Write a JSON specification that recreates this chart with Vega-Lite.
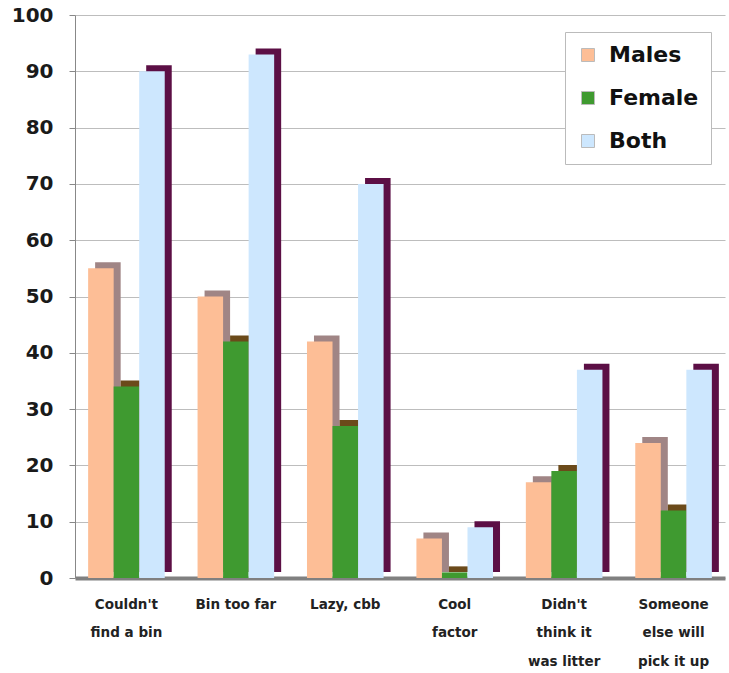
{
  "$schema": "https://vega.github.io/schema/vega-lite/v6.json",
  "width": 650,
  "height": 563,
  "autosize": "none",
  "padding": {"left": 75, "top": 15, "right": 4, "bottom": 95},
  "background": "white",
  "config": {"view": {"stroke": null}, "font": "DejaVu Sans"},
  "data": {
    "values": [
      {"reason": "Couldn't find a bin", "group": "Males", "value": 55},
      {"reason": "Couldn't find a bin", "group": "Female", "value": 34},
      {"reason": "Couldn't find a bin", "group": "Both", "value": 90},
      {"reason": "Bin too far", "group": "Males", "value": 50},
      {"reason": "Bin too far", "group": "Female", "value": 42},
      {"reason": "Bin too far", "group": "Both", "value": 93},
      {"reason": "Lazy, cbb", "group": "Males", "value": 42},
      {"reason": "Lazy, cbb", "group": "Female", "value": 27},
      {"reason": "Lazy, cbb", "group": "Both", "value": 70},
      {"reason": "Cool factor", "group": "Males", "value": 7},
      {"reason": "Cool factor", "group": "Female", "value": 1},
      {"reason": "Cool factor", "group": "Both", "value": 9},
      {"reason": "Didn't think it was litter", "group": "Males", "value": 17},
      {"reason": "Didn't think it was litter", "group": "Female", "value": 19},
      {"reason": "Didn't think it was litter", "group": "Both", "value": 37},
      {"reason": "Someone else will pick it up", "group": "Males", "value": 24},
      {"reason": "Someone else will pick it up", "group": "Female", "value": 12},
      {"reason": "Someone else will pick it up", "group": "Both", "value": 37}
    ]
  },
  "encoding": {
    "x": {
      "field": "reason",
      "type": "nominal",
      "sort": null,
      "scale": {"paddingInner": 0.3, "paddingOuter": 0.12},
      "axis": {
        "title": null,
        "labelAngle": 0,
        "labelFont": "DejaVu Sans",
        "labelFontSize": 13.5,
        "labelFontWeight": "bold",
        "labelColor": "#222222",
        "labelPadding": 19,
        "labelLineHeight": 28.5,
        "labelBaseline": "top",
        "ticks": false,
        "domainColor": "#808080",
        "domainWidth": 4,
        "labelExpr": "datum.value == \"Couldn't find a bin\" ? [\"Couldn't\", 'find a bin'] : datum.value == 'Cool factor' ? ['Cool', 'factor'] : datum.value == \"Didn't think it was litter\" ? [\"Didn't\", 'think it', 'was litter'] : datum.value == 'Someone else will pick it up' ? ['Someone', 'else will', 'pick it up'] : datum.value"
      }
    },
    "y": {
      "field": "value",
      "type": "quantitative",
      "scale": {"domain": [0, 100]},
      "axis": {
        "title": null,
        "values": [0, 10, 20, 30, 40, 50, 60, 70, 80, 90, 100],
        "labelFont": "DejaVu Sans",
        "labelFontSize": 20,
        "labelFontWeight": "bold",
        "labelColor": "#1a1a1a",
        "labelPadding": 16,
        "tickSize": 6,
        "tickColor": "#888888",
        "domainColor": "#888888",
        "gridColor": "#BDBDBD",
        "gridWidth": 1
      }
    }
  },
  "layer": [
    {
      "mark": {"type": "bar", "yOffset": -6},
      "encoding": {
        "xOffset": {"field": "group", "type": "nominal", "sort": ["Males", "Female", "Both"], "scale": {"range": [7, 83.6]}},
        "color": {
          "field": "group",
          "type": "nominal",
          "scale": {"domain": ["Males", "Female", "Both"], "range": ["#A08585", "#6B4A1A", "#5C0F45"]},
          "legend": null
        }
      }
    },
    {
      "mark": {"type": "bar"},
      "encoding": {
        "xOffset": {"field": "group", "type": "nominal", "sort": ["Males", "Female", "Both"], "scale": {"range": [0, 76.6]}},
        "color": {
          "field": "group",
          "type": "nominal",
          "scale": {"domain": ["Males", "Female", "Both"], "range": ["#FDBE96", "#3F9A30", "#CDE7FE"]},
          "legend": {
            "title": null,
            "orient": "none",
            "legendX": 490,
            "legendY": 17,
            "direction": "vertical",
            "symbolType": "square",
            "symbolSize": 169,
            "symbolStrokeColor": "#bbbbbb",
            "symbolStrokeWidth": 1,
            "labelFont": "DejaVu Sans",
            "labelFontSize": 22,
            "labelFontWeight": "bold",
            "labelColor": "#111111",
            "rowPadding": 21,
            "padding": 12,
            "strokeColor": "#BBBBBB",
            "fillColor": "white",
            "labelOffset": 10
          }
        }
      }
    }
  ],
  "resolve": {"scale": {"color": "independent", "xOffset": "independent"}}
}
